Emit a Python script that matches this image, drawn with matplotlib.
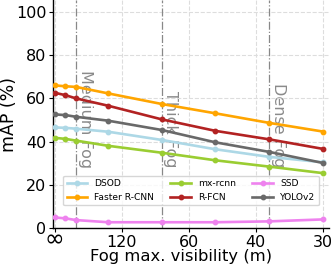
import numpy as np
import matplotlib
matplotlib.use("Agg")
import matplotlib.pyplot as plt
from matplotlib.transforms import blended_transform_factory

# Fog maximum visibility (m); inf = no fog
visibility = [np.inf, 750, 375, 150, 75, 50, 37.5, 30]
tick_vis = [np.inf, 120, 60, 40, 30]
tick_labels = ["\u221e", "120", "60", "40", "30"]

dsod = [46.6, 46.4, 46.0, 44.6, 40.8, 36.5, 33.0, 30.5]
faster_rcnn = [66.0, 65.6, 65.3, 62.3, 57.4, 53.1, 48.7, 44.7]
mx_rcnn = [41.8, 41.3, 40.5, 38.1, 34.9, 31.4, 28.5, 25.5]
rfcn = [62.6, 61.5, 60.0, 56.6, 50.3, 45.0, 41.1, 36.7]
ssd = [5.0, 4.6, 3.8, 2.8, 2.8, 2.8, 3.2, 4.1]
yolov2 = [52.6, 52.3, 51.5, 49.7, 45.4, 39.7, 35.3, 30.2]

fog_levels = ["Medium Fog", "Thick Fog", "Dense Fog"]
fog_vis = [375, 75, 37.5]

series = [
    ("DSOD", dsod, "#add8e6"),
    ("Faster R-CNN", faster_rcnn, "#ffa500"),
    ("mx-rcnn", mx_rcnn, "#9acd32"),
    ("R-FCN", rfcn, "#b22222"),
    ("SSD", ssd, "#ee82ee"),
    ("YOLOv2", yolov2, "#696969"),
]

def inv(v):
    return np.array([0.0 if np.isinf(x) else 1.0 / x for x in v])

fig = plt.figure(figsize=(3.32, 2.66), dpi=100)
ax = fig.add_axes([0.159, 0.1417, 0.832, 0.858])

x = inv(visibility)
for name, vals, col in series:
    ax.plot(x, vals, color=col, lw=1.9, marker="o", ms=3.2, label=name, zorder=3)

for name, v in zip(fog_levels, fog_vis):
    xv = 1.0 / v
    ax.axvline(xv, color="#888888", lw=0.9, ls="-.", zorder=2)
    ax.text(xv + 0.0002, 28, name, rotation=270, ha="left", va="bottom",
            color="#8a8a8a", fontsize=11.5, zorder=1)

ax.set_xlim(-0.000224, 0.03412)
ax.set_ylim(0, 105.4)
ticks_x = inv(tick_vis)
ax.set_xticks(ticks_x)
ax.set_xticklabels([""] + tick_labels[1:])
ax.set_yticks([0, 20, 40, 60, 80, 100])
ax.tick_params(labelsize=11.5, length=3, width=0.8, pad=1.5)
# the "infinity" tick label, drawn larger as in the reference
trans = blended_transform_factory(ax.transData, ax.transAxes)
ax.text(ticks_x[0], -0.05, tick_labels[0], transform=trans, fontsize=17,
        ha="center", va="center", clip_on=False)
ax.grid(True, color="#dddddd", ls="--", lw=0.8, zorder=0)
for s in ["top", "right"]:
    ax.spines[s].set_visible(False)
for s in ["left", "bottom"]:
    ax.spines[s].set_color("black")
    ax.spines[s].set_linewidth(1.0)

fig.text(181 / 332, 4.5 / 266, "Fog max. visibility (m)", fontsize=11.8,
         ha="center", va="baseline")
fig.text(9.5 / 332, 1 - 115 / 266, "mAP (%)", fontsize=12.5, rotation=90,
         ha="center", va="center")

ax.legend(loc="lower center", bbox_to_anchor=(0.5, 0.1), ncol=3,
          fontsize=6.6, borderaxespad=0, handlelength=2.2, columnspacing=1.8,
          framealpha=0.8, edgecolor="#cccccc")

fig.savefig("out.png", dpi=100)
